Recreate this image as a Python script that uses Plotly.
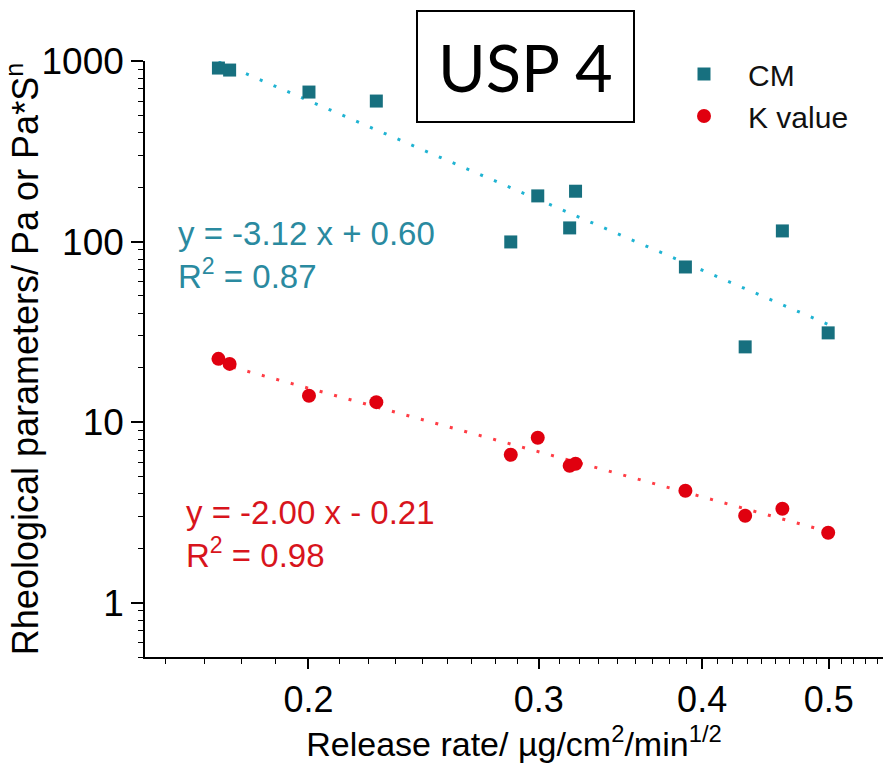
import numpy as np
import plotly.graph_objects as go

# ---- data ----
cm_x = [0.1707, 0.1741, 0.2002, 0.2254, 0.2856, 0.2995, 0.3168, 0.3201, 0.3884, 0.4315, 0.4607, 0.4994]
cm_y = [914, 891, 673, 600, 99.5, 179, 119, 190, 72.3, 26.1, 114.5, 31.2]

k_x = [0.1707, 0.1741, 0.2002, 0.2254, 0.2856, 0.2995, 0.3168, 0.3201, 0.3884, 0.4315, 0.4607, 0.4994]
k_y = [22.4, 21.0, 14.0, 12.9, 6.59, 8.19, 5.73, 5.88, 4.17, 3.03, 3.31, 2.44]

cm_fit = {"slope": -3.12, "intercept": 0.60, "r2": 0.87}
k_fit = {"slope": -2.00, "intercept": -0.21, "r2": 0.98}

x_ticks = [0.2, 0.3, 0.4, 0.5]
y_ticks = [1, 10, 100, 1000]

TEAL = "#17707f"
TEAL_LINE = "#1fb3d2"
TEAL_TEXT = "#2a8aa0"
RED = "#e0000f"
RED_LINE = "#ff3d45"
RED_TEXT = "#d8141c"
FONT = "Liberation Sans, Arial, sans-serif"


def fit_line(xs, fit):
    xs = np.array([min(xs), max(xs)])
    return xs, 10 ** (fit["slope"] * np.log10(xs) + fit["intercept"])


fig = go.Figure()

fx, fy = fit_line(cm_x, cm_fit)
fig.add_trace(go.Scatter(x=fx, y=fy, mode="lines", showlegend=False,
                         line=dict(color=TEAL_LINE, width=3, dash="3px,12px")))
fx, fy = fit_line(k_x, k_fit)
fig.add_trace(go.Scatter(x=fx, y=fy, mode="lines", showlegend=False,
                         line=dict(color=RED_LINE, width=3, dash="3px,12px")))

fig.add_trace(go.Scatter(x=cm_x, y=cm_y, mode="markers", name="CM",
                         marker=dict(symbol="square", size=13, color=TEAL), cliponaxis=False))
fig.add_trace(go.Scatter(x=k_x, y=k_y, mode="markers", name="K value",
                         marker=dict(symbol="circle", size=14, color=RED), cliponaxis=False))

# minor ticks on x (8 per major interval, linear spacing as in the original)
x_minor = []
for a in [0.1, 0.2, 0.3, 0.4, 0.5]:
    for k in range(1, 9):
        x_minor.append(round(a + k * 0.1 / 9, 5))

L, R, T, B = 145, 2, 61, 106
W, H = 885, 763
pw, ph = W - L - R, H - T - B


def px(x):
    return (x - L) / pw


def py(y):
    return 1 - (y - T) / ph


fig.update_layout(
    width=W, height=H,
    margin=dict(l=L, r=R, t=T, b=B),
    paper_bgcolor="white", plot_bgcolor="white",
    font=dict(family=FONT, color="black"),
    showlegend=True,
    legend=dict(x=px(660), y=py(48), xanchor="left", yanchor="top",
                font=dict(size=30, color="#111111"), bgcolor="rgba(0,0,0,0)",
                itemwidth=78, tracegroupgap=0),
    xaxis=dict(type="log", range=[np.log10(0.15), np.log10(0.55)],
               tickmode="array", tickvals=x_ticks, ticktext=[str(v) for v in x_ticks],
               ticks="outside", ticklen=10, tickwidth=1.5, tickcolor="black",
               showline=True, linecolor="black", linewidth=1.5, showgrid=False,
               tickfont=dict(size=36),
               minor=dict(tickmode="array", tickvals=x_minor, ticks="outside",
                          ticklen=5, tickwidth=1.2, tickcolor="black", showgrid=False),
               title=dict(text="Release rate/ µg/cm<sup>2</sup>/min<sup>1/2</sup>",
                          font=dict(size=34), standoff=8)),
    yaxis=dict(type="log", range=[np.log10(0.5), 3],
               tickmode="array", tickvals=y_ticks, ticktext=[str(v) for v in y_ticks],
               ticks="outside", ticklen=12, tickwidth=1.5, tickcolor="black",
               showline=True, linecolor="black", linewidth=1.5, showgrid=False,
               tickfont=dict(size=37),
               minor=dict(dtick="D1", ticks="outside", ticklen=5, tickwidth=1.2,
                          tickcolor="black", showgrid=False),
               title=dict(text="Rheological parameters/ Pa or Pa*S<sup>n</sup>",
                          font=dict(size=36), standoff=4)),
    shapes=[dict(type="rect", xref="paper", yref="paper",
                 x0=px(417), x1=px(634), y0=py(122), y1=py(11),
                 line=dict(color="black", width=2), fillcolor="white", layer="above")],
    annotations=[
        dict(text="USP 4", xref="paper", yref="paper", x=px(525), y=py(67),
             xanchor="center", yanchor="middle", showarrow=False,
             font=dict(family="Lato, Open Sans, sans-serif", size=65, color="black")),
        dict(text=f"y = {cm_fit['slope']:.2f} x + {cm_fit['intercept']:.2f}",
             xref="paper", yref="paper", x=px(176), y=py(234), xanchor="left", yanchor="middle",
             showarrow=False, font=dict(size=33, color=TEAL_TEXT)),
        dict(text=f"R<sup>2</sup> = {cm_fit['r2']:.2f}",
             xref="paper", yref="paper", x=px(176), y=py(274), xanchor="left", yanchor="middle",
             showarrow=False, font=dict(size=33, color=TEAL_TEXT)),
        dict(text=f"y = {k_fit['slope']:.2f} x - {abs(k_fit['intercept']):.2f}",
             xref="paper", yref="paper", x=px(184), y=py(512), xanchor="left", yanchor="middle",
             showarrow=False, font=dict(size=33, color=RED_TEXT)),
        dict(text=f"R<sup>2</sup> = {k_fit['r2']:.2f}",
             xref="paper", yref="paper", x=px(184), y=py(553), xanchor="left", yanchor="middle",
             showarrow=False, font=dict(size=33, color=RED_TEXT)),
    ],
)

fig.write_html("out.html")
